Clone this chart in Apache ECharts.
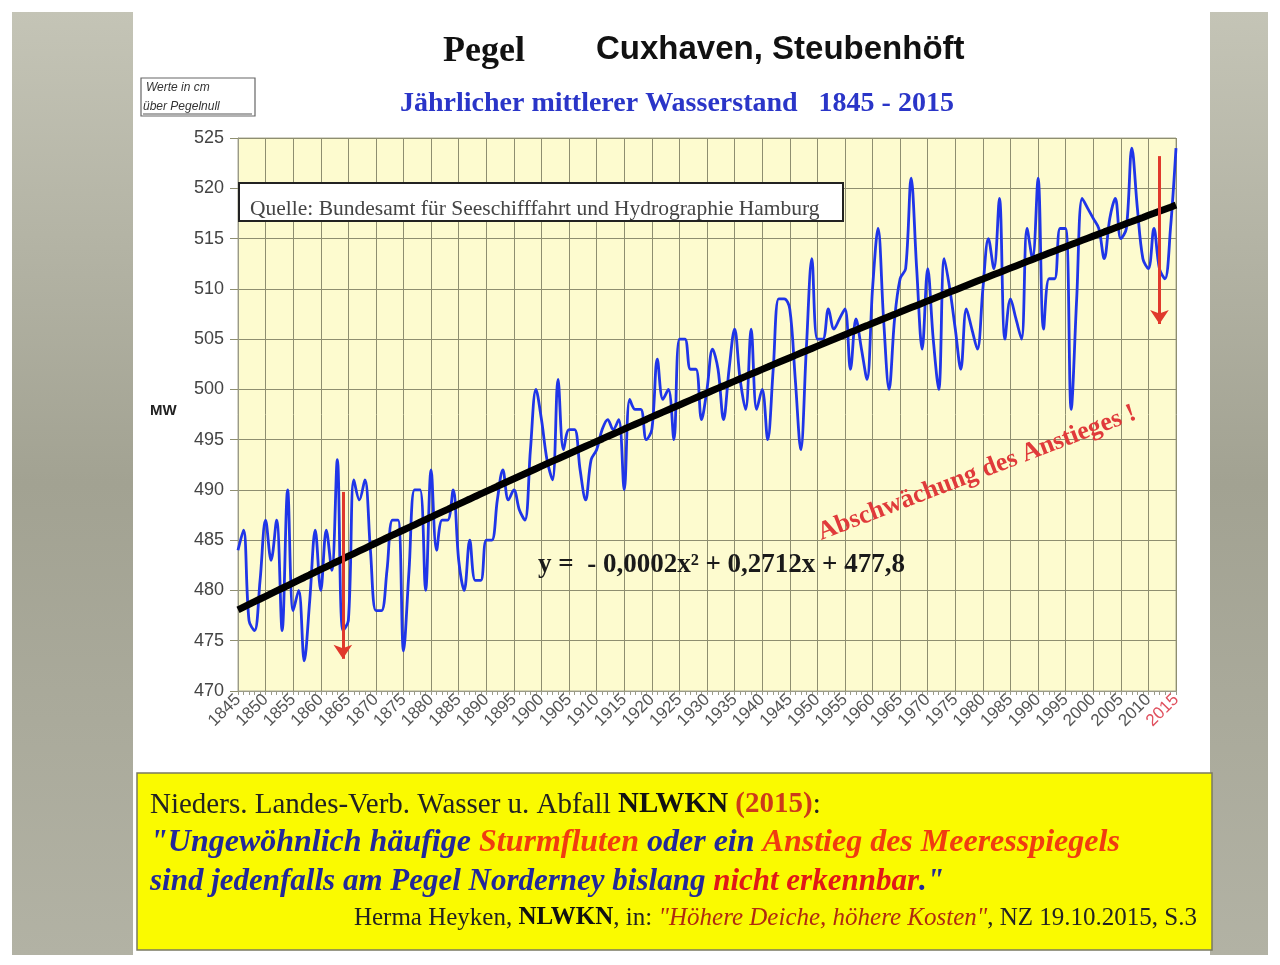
<!DOCTYPE html>
<html>
<head>
<meta charset="utf-8">
<script src="https://cdn.jsdelivr.net/npm/echarts@6/dist/echarts.min.js"></script>
<style>
html,body{margin:0;padding:0;background:#fff;}
#chart{width:1280px;height:965px;}
</style>
</head>
<body>
<div id="chart"></div>
<script>
// ---- data ----
var firstYear = 1845;
var lastYear = 2015;
var years = [];
for (var yr = firstYear; yr <= lastYear; yr++) years.push(String(yr));

// annual mean water level, cm above gauge zero (1845 .. 2015)
var waterLevel = [
  484,486,477,476,481,487,483,487,476,490,   // 1845-1854
  478,480,473,479,486,480,486,482,493,476,   // 1855-1864
  477,491,489,491,484,478,478,482,487,487,   // 1865-1874
  474,482,490,490,480,492,484,487,487,490,   // 1875-1884
  483,480,485,481,481,485,485,489,492,489,   // 1885-1894
  490,488,487,494,500,497,493,491,501,494,   // 1895-1904
  496,496,492,489,493,494,496,497,496,497,   // 1905-1914
  490,499,498,498,495,496,503,499,500,495,   // 1915-1924
  505,505,502,502,497,500,504,502,497,502,   // 1925-1934
  506,501,498,506,498,500,495,502,509,509,   // 1935-1944
  508,501,494,504,513,505,505,508,506,507,   // 1945-1954
  508,502,507,504,501,510,516,507,500,507,   // 1955-1964
  511,512,521,512,504,512,505,500,513,510,   // 1965-1974
  506,502,508,506,504,510,515,512,519,505,   // 1975-1984
  509,507,505,516,513,521,506,511,511,516,   // 1985-1994
  516,498,509,519,518,517,516,513,517,519,   // 1995-2004
  515,516,524,518,513,512,516,512,511,516,   // 2005-2014
  524                                        // 2015
];

// quadratic trend printed on the chart: y = a*x^2 + b*x + c  (x = 1 for 1845)
var trendCoeffs = [-0.0002, 0.2712, 477.8];
var trend = years.map(function (y, i) {
  var x = i + 1;
  return +(trendCoeffs[0] * x * x + trendCoeffs[1] * x + trendCoeffs[2]).toFixed(2);
});

// red arrows: [year, from, to]
var arrow1 = ['1864', 489.8, 473.2];
var arrow2 = ['2012', 523.2, 506.5];

var yTicks = {min: 470, max: 525, step: 5};

var SERIF = '"Liberation Serif","Times New Roman",serif';
var SANS = '"Liberation Sans",Arial,Helvetica,sans-serif';

var chart = echarts.init(document.getElementById('chart'), null, {renderer: 'canvas'});

var option = {
  animation: false,
  backgroundColor: '#ffffff',
  grid: {
    left: 238, top: 138, width: 938, height: 553,
    show: true, backgroundColor: '#fdfbcf', borderColor: '#a8a890', borderWidth: 1
  },
  xAxis: {
    type: 'category',
    data: years,
    boundaryGap: false,
    axisLine: {show: true, lineStyle: {color: '#9a9a88', width: 1}},
    axisTick: {show: true, interval: 0, length: 4, lineStyle: {color: '#9a9a88'}},
    splitLine: {show: true, interval: 4, lineStyle: {color: '#8e8e70', width: 1}},
    axisLabel: {
      interval: 4, rotate: 45, margin: 6,
      fontFamily: SANS, fontSize: 17, color: '#555',
      formatter: function (v) { return v === '2015' ? '{r|' + v + '}' : v; },
      rich: {r: {color: '#e0505e', fontFamily: SANS, fontSize: 17}}
    }
  },
  yAxis: {
    type: 'value',
    min: yTicks.min, max: yTicks.max, interval: yTicks.step,
    axisLine: {show: true, lineStyle: {color: '#9a9a88'}},
    axisTick: {show: true, length: 8, lineStyle: {color: '#8e8e70'}},
    splitLine: {show: true, lineStyle: {color: '#8e8e70', width: 1}},
    axisLabel: {fontFamily: SANS, fontSize: 18, color: '#444', margin: 14}
  },
  series: [
    {
      name: 'MW', type: 'line', data: waterLevel, smooth: 0.35,
      showSymbol: false, symbol: 'none',
      lineStyle: {color: '#1f35e8', width: 2.8},
      z: 3,
      markLine: {
        silent: true,
        symbol: ['none', 'arrow'],
        symbolSize: [14, 14],
        label: {show: false},
        lineStyle: {color: '#e0392c', width: 3, type: 'solid'},
        data: [
          [{coord: [arrow1[0], arrow1[1]]}, {coord: [arrow1[0], arrow1[2]]}],
          [{coord: [arrow2[0], arrow2[1]]}, {coord: [arrow2[0], arrow2[2]]}]
        ],
        z: 6
      }
    },
    {
      name: 'Trend', type: 'line', data: trend, smooth: false,
      showSymbol: false, symbol: 'none',
      lineStyle: {color: '#000', width: 7},
      z: 4
    }
  ],
  graphic: [
    // outer background
    {type: 'rect', z: -100, shape: {x: 12, y: 12, width: 1256, height: 943},
     style: {fill: new echarts.graphic.LinearGradient(0, 0, 0, 1, [
       {offset: 0, color: '#c4c4b6'}, {offset: 0.5, color: '#a2a292'}, {offset: 1, color: '#b2b2a4'}])}},
    // slide
    {type: 'rect', z: -90, shape: {x: 133, y: 12, width: 1077, height: 943}, style: {fill: '#ffffff'}},
    // titles
    {type: 'text', z: 100, x: 443, y: 52,
     style: {text: 'Pegel', font: 'bold 36px ' + SERIF, fill: '#111', textVerticalAlign: 'middle'}},
    {type: 'text', z: 100, x: 596, y: 50,
     style: {text: 'Cuxhaven, Steubenhöft', font: 'bold 33px ' + SANS, fill: '#111', textVerticalAlign: 'middle'}},
    {type: 'text', z: 100, x: 400, y: 104,
     style: {text: 'Jährlicher mittlerer Wasserstand   1845 - 2015', font: 'bold 28px ' + SERIF, fill: '#2a35c8', textVerticalAlign: 'middle'}},
    // units box
    {type: 'rect', z: 100, shape: {x: 141, y: 78, width: 114, height: 38},
     style: {fill: '#fff', stroke: '#666', lineWidth: 1.2}},
    {type: 'text', z: 101, x: 146, y: 88,
     style: {text: 'Werte in cm', font: 'italic 12px ' + SANS, fill: '#333', textVerticalAlign: 'middle'}},
    {type: 'text', z: 101, x: 143, y: 107,
     style: {text: 'über Pegelnull', font: 'italic 12px ' + SANS, fill: '#333', textVerticalAlign: 'middle'}},
    {type: 'line', z: 101, shape: {x1: 143, y1: 114, x2: 252, y2: 114}, style: {stroke: '#555', lineWidth: 1}},
    // axis title
    {type: 'text', z: 100, x: 150, y: 411,
     style: {text: 'MW', font: 'bold 15px ' + SANS, fill: '#222', textVerticalAlign: 'middle'}},
    // source box
    {type: 'rect', z: 100, shape: {x: 239, y: 183, width: 604, height: 38},
     style: {fill: '#fff', stroke: '#222', lineWidth: 2}},
    {type: 'text', z: 101, x: 250, y: 209,
     style: {text: 'Quelle: Bundesamt für Seeschifffahrt und Hydrographie Hamburg', font: '21.5px ' + SERIF, fill: '#444', textVerticalAlign: 'middle'}},
    // equation
    {type: 'text', z: 100, x: 538, y: 565,
     style: {text: 'y =  - 0,0002x² + 0,2712x + 477,8', font: 'bold 27px ' + SERIF, fill: '#1a1a1a', textVerticalAlign: 'middle'}},
    // rotated annotation
    {type: 'text', z: 100, x: 977, y: 473, rotation: 21 * Math.PI / 180,
     style: {text: 'Abschwächung des Anstieges !', font: 'bold 26px ' + SERIF, fill: '#e03a3a', textAlign: 'center', textVerticalAlign: 'middle'}},
    // yellow quote box
    {type: 'rect', z: 100, shape: {x: 137, y: 773, width: 1075, height: 177},
     style: {fill: '#fafa00', stroke: '#7a7a60', lineWidth: 1.5}},
    {type: 'text', z: 101, x: 150, y: 805,
     style: {
       text: '{n|Nieders. Landes-Verb. Wasser u. Abfall }{b|NLWKN}{r| (2015)}{n|:}',
       textVerticalAlign: 'middle',
       rich: {
         n: {fontFamily: SERIF, fontSize: 29, fill: '#222', color: '#222'},
         b: {fontFamily: SERIF, fontSize: 29, fontWeight: 'bold', fill: '#111', color: '#111'},
         r: {fontFamily: SERIF, fontSize: 29, fontWeight: 'bold', fill: '#cc3a1a', color: '#cc3a1a'}
       }
     }},
    {type: 'text', z: 101, x: 150, y: 843,
     style: {
       text: '{q|"Ungewöhnlich häufige }{o|Sturmfluten}{q| oder ein }{o|Anstieg des Meeresspiegels}',
       textVerticalAlign: 'middle',
       rich: {
         q: {fontFamily: SERIF, fontSize: 32, fontWeight: 'bold', fontStyle: 'italic', fill: '#22289a', color: '#22289a'},
         o: {fontFamily: SERIF, fontSize: 32, fontWeight: 'bold', fontStyle: 'italic', fill: '#f03c10', color: '#f03c10'}
       }
     }},
    {type: 'text', z: 101, x: 150, y: 882,
     style: {
       text: '{q|sind jedenfalls am Pegel Norderney bislang }{o|nicht erkennbar}{q|."}',
       textVerticalAlign: 'middle',
       rich: {
         q: {fontFamily: SERIF, fontSize: 31, fontWeight: 'bold', fontStyle: 'italic', fill: '#22289a', color: '#22289a'},
         o: {fontFamily: SERIF, fontSize: 31, fontWeight: 'bold', fontStyle: 'italic', fill: '#e01818', color: '#e01818'}
       }
     }},
    {type: 'text', z: 101, x: 1197, y: 918,
     style: {
       text: '{n|Herma Heyken, }{b|NLWKN}{n|, in: }{i|"Höhere Deiche, höhere Kosten"}{n|, NZ 19.10.2015, S.3}',
       textAlign: 'right', textVerticalAlign: 'middle',
       rich: {
         n: {fontFamily: SERIF, fontSize: 25, fill: '#222', color: '#222'},
         b: {fontFamily: SERIF, fontSize: 25, fontWeight: 'bold', fill: '#111', color: '#111'},
         i: {fontFamily: SERIF, fontSize: 25, fontStyle: 'italic', fill: '#b02a10', color: '#b02a10'}
       }
     }}
  ]
};
chart.setOption(option);
</script>
</body>
</html>
